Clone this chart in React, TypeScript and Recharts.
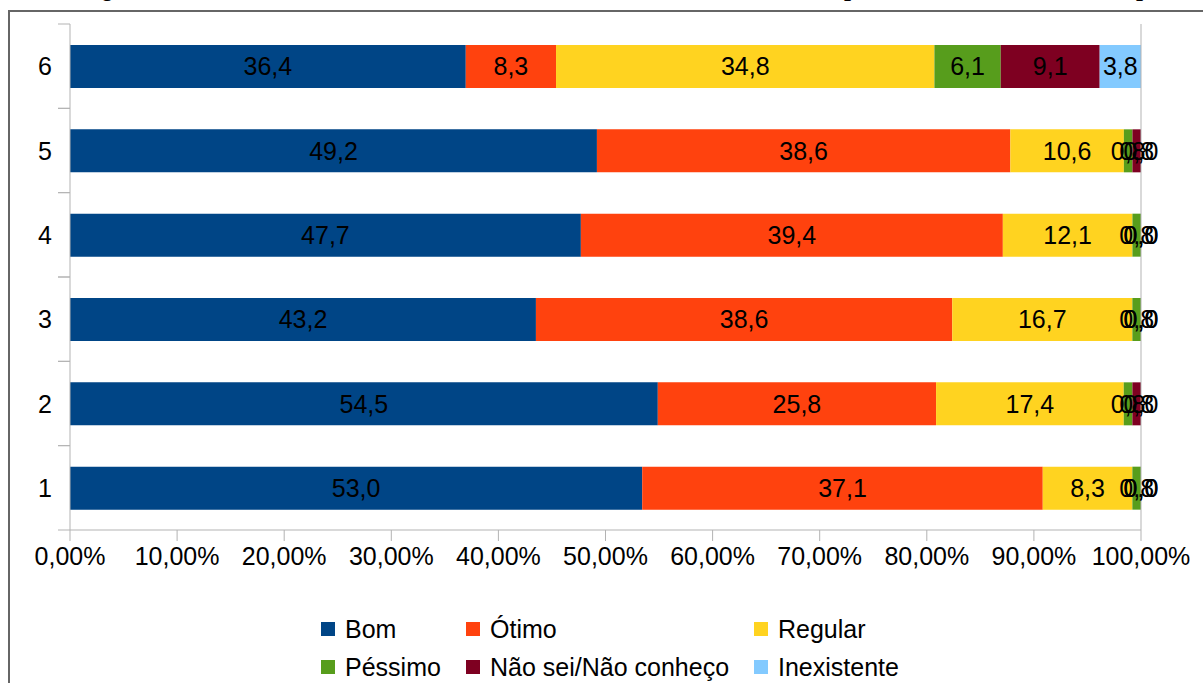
import React from "react";
import { Bar, BarChart, LabelList, Legend, ReferenceLine, XAxis, YAxis } from "recharts";

const categories = ["1", "2", "3", "4", "5", "6"];
const bom = [53.0, 54.5, 43.2, 47.7, 49.2, 36.4];
const otimo = [37.1, 25.8, 38.6, 39.4, 38.6, 8.3];
const regular = [8.3, 17.4, 16.7, 12.1, 10.6, 34.8];
const pessimo = [0.8, 0.8, 0.8, 0.8, 0.8, 6.1];
const naoSei = [0.0, 0.8, 0.0, 0.0, 0.8, 9.1];
const inexistente = [0.0, 0.0, 0.0, 0.0, 0.0, 3.8];
const xTicks = [0, 0.1, 0.2, 0.3, 0.4, 0.5, 0.6, 0.7, 0.8, 0.9, 1];

const series = [
  { key: "bom", name: "Bom", color: "#004586", values: bom },
  { key: "otimo", name: "Ótimo", color: "#ff420e", values: otimo },
  { key: "regular", name: "Regular", color: "#ffd320", values: regular },
  { key: "pessimo", name: "Péssimo", color: "#579d1c", values: pessimo },
  { key: "naoSei", name: "Não sei/Não conheço", color: "#7e0021", values: naoSei },
  { key: "inexistente", name: "Inexistente", color: "#83caff", values: inexistente },
];

const data = categories.map((cat, i) => {
  const row: Record<string, string | number> = { cat };
  series.forEach((s) => (row[s.key] = s.values[i]));
  return row;
});

const W = 1203;
const H = 683;
const PLOT_TOP = 24;
const PLOT_BOTTOM = 530;
const PLOT_LEFT = 70;
const PLOT_RIGHT = 1141;
const AXIS = "#b3b3b3";
const FONT = "'Liberation Sans', Arial, sans-serif";

const fmtPct = (v: number) => (v * 100).toFixed(2).replace(".", ",") + "%";
const fmtVal = (v: any) => Number(v).toFixed(1).replace(".", ",");

function CategoryTick(props: any) {
  const { y, payload } = props;
  const band = (PLOT_BOTTOM - PLOT_TOP) / categories.length;
  return (
    <g>
      <text x={PLOT_LEFT - 18} y={y} textAnchor="end" dominantBaseline="central" fontSize={25} fill="#000" fontFamily={FONT}>
        {payload.value}
      </text>
      <line x1={PLOT_LEFT - 12} x2={PLOT_LEFT} y1={y - band / 2} y2={y - band / 2} stroke={AXIS} />
      <line x1={PLOT_LEFT - 12} x2={PLOT_LEFT} y1={y + band / 2} y2={y + band / 2} stroke={AXIS} />
    </g>
  );
}

// legend keeps the series order (recharts sorts the payload by name otherwise)
function LegendContent() {
  return (
    <div style={{ display: "grid", gridTemplateColumns: "145px 288px 300px", marginLeft: 321, fontFamily: FONT, fontSize: 25, color: "#000" }}>
      {series.map((s) => (
        <div key={s.key} style={{ display: "flex", alignItems: "center", height: 38, whiteSpace: "nowrap" }}>
          <span style={{ display: "inline-block", width: 14, height: 14, background: s.color, marginRight: 10 }} />
          <span>{s.name}</span>
        </div>
      ))}
    </div>
  );
}

export default function App() {
  return (
    <div style={{ position: "absolute", left: 0, top: 0, width: W, height: H, overflow: "hidden", background: "#fff" }}>
      <div style={{ position: "absolute", left: 0, top: 0, width: W, height: 9, overflow: "hidden" }}>
        <div style={{ position: "absolute", left: 0, top: -25, width: W * 2, fontFamily: "'Liberation Serif', 'Times New Roman', serif", fontWeight: "bold", fontStyle: "italic", fontSize: 25, lineHeight: "25px", whiteSpace: "nowrap" }}>
          <span style={{ position: "absolute", left: 80 }}>Figura 1 – Notas,</span>
          <span style={{ position: "absolute", left: 846 }}>por</span>
          <span style={{ position: "absolute", left: 1138 }}>período</span>
        </div>
      </div>
      <div style={{ position: "absolute", left: 8, top: 10, width: W + 40, height: H + 40, border: "2px solid #666", boxSizing: "border-box" }} />
      <div style={{ position: "absolute", left: 0, top: 0 }}>
        <BarChart
          width={W}
          height={H}
          data={data}
          layout="vertical"
          stackOffset="expand"
          barSize={43}
          margin={{ top: PLOT_TOP, right: W - PLOT_RIGHT, bottom: H - PLOT_BOTTOM - 60, left: PLOT_LEFT - 60 }}
        >
          <XAxis
            type="number"
            domain={[0, 1]}
            ticks={xTicks}
            tickFormatter={fmtPct}
            height={60}
            tickSize={11}
            tickMargin={6}
            axisLine={{ stroke: AXIS }}
            tickLine={{ stroke: AXIS }}
            tick={{ fill: "#000", fontSize: 25, fontFamily: FONT }}
            interval={0}
          />
          <XAxis xAxisId="top" orientation="top" type="number" domain={[0, 1]} height={0} tick={false} tickLine={false} axisLine={{ stroke: AXIS }} />
          <YAxis
            type="category"
            dataKey="cat"
            reversed
            width={60}
            axisLine={{ stroke: AXIS }}
            tickLine={false}
            tick={<CategoryTick />}
            interval={0}
          />
          <ReferenceLine x={1} stroke={AXIS} />
          {series.map((s) => (
            <Bar key={s.key} dataKey={s.key} name={s.name} stackId="a" fill={s.color} minPointSize={0.01} isAnimationActive={false}>
              <LabelList dataKey={s.key} position="center" fill="#000" fontSize={25} fontFamily={FONT} formatter={fmtVal} />
            </Bar>
          ))}
          <Legend
            layout="horizontal"
            verticalAlign="middle"
            align="center"
            content={<LegendContent />}
            wrapperStyle={{ left: 0, top: 610, width: W }}
          />
        </BarChart>
      </div>
    </div>
  );
}
